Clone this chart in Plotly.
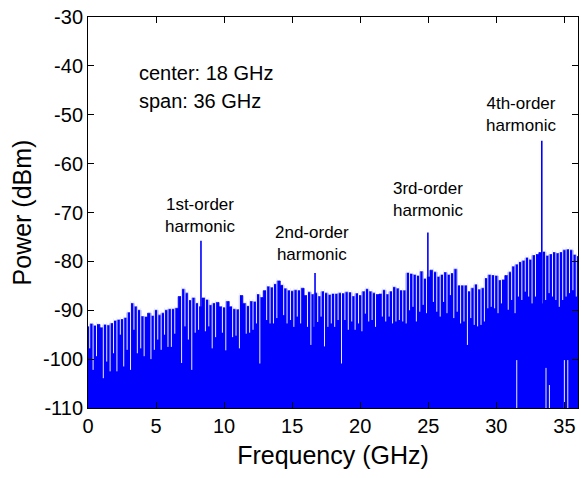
import numpy as np
import plotly.graph_objects as go

# ---------------- data ----------------
freq_step_ghz = 0.25  # spacing of the envelope readings (0 .. 36 GHz)

env_power = [
    -93.4, -92.8, -93.2, -92.9, -93.6, -93.0, -93.1, -92.7, -92.2, -92.0, -91.9, -91.6, -90.5,
    -88.6, -89.3, -90.0, -91.3, -91.4, -90.6, -91.2, -90.0, -91.0, -90.6, -90.0, -89.8,
    -89.8, -89.6, -87.2, -85.7, -86.5, -88.0, -87.5, -88.6, -89.3, -87.5, -87.9, -89.0,
    -88.6, -88.4, -89.3, -89.5, -88.2, -89.3, -89.8, -89.9, -87.0, -88.6, -89.2, -88.2,
    -88.3, -86.8, -87.4, -86.0, -85.2, -85.4, -84.7, -84.0, -84.9, -85.6, -86.0, -86.1,
    -85.9, -86.0, -85.5, -87.0, -86.3, -86.8, -86.5, -87.2, -86.2, -86.5, -86.9, -86.7,
    -86.7, -86.5, -86.6, -86.3, -86.4, -87.2, -86.6, -87.0, -86.2, -85.7, -86.2, -86.5,
    -86.8, -86.7, -85.9, -86.8, -86.2, -85.3, -85.6, -86.0, -86.0, -82.4, -82.6, -82.8,
    -83.0, -82.1, -83.6, -83.2, -81.8, -82.2, -83.2, -82.8, -82.3, -82.8, -82.5, -81.6,
    -85.0, -85.0, -85.0, -86.2, -85.5, -84.8, -85.8, -85.5, -83.5, -82.8, -82.9, -83.0,
    -83.9, -83.8, -82.9, -82.2, -81.1, -80.7, -80.2, -79.9, -79.3, -79.7, -78.8, -78.6,
    -78.2, -78.1, -78.9, -78.6, -78.2, -78.4, -78.2, -77.7, -77.6, -77.7, -78.7, -79.0,
]

# depth of the narrow notch between neighbouring envelope readings (None = no notch)
dip_power = [
    -97.8, -102.2, -99.4, None, -103.9, -100.5, -102.5, -98.8, -102.5, -95.0, -101.5, -98.1,
    -102.2, -94.0, -98.8, -97.8, -99.4, None, -100.0, -98.1, -96.0, -98.1, -95.0, -97.5,
    -97.5, -94.8, None, -100.8, -93.3, -96.0, -102.2, -94.6, -94.0, None, -94.3, -93.3,
    -97.8, -95.5, None, -94.6, -98.2, None, -95.5, -95.2, -97.8, None, -94.8, -94.6,
    -94.0, -92.7, -100.9, None, -92.0, -92.7, -92.7, -91.6, None, -91.0, -92.7, -92.0,
    -93.4, -91.3, -92.7, None, -93.4, -97.1, -93.4, -92.4, -91.3, -97.4, -93.4, -92.7,
    -93.4, -92.0, -100.9, -92.0, -94.0, -92.3, -94.0, -92.7, -94.3, -90.7, -92.3, -92.0,
    -93.4, None, -91.3, -92.3, -91.3, -92.7, -92.3, -92.0, -92.3, -92.7, -90.0, -89.3,
    -92.3, -90.3, -88.9, -90.6, None, -88.3, -90.3, -91.3, -88.3, -90.6, -86.9, -91.6,
    -90.3, -92.7, -92.3, -97.1, -91.6, -93.0, -93.3, -93.0, -92.3, -89.6, -89.3, -89.6,
    -90.6, -88.6, None, -89.9, -87.9, -90.6, -87.2, -87.9, -86.2, -87.2, -88.6, -87.2,
    None, -88.6, -87.9, -86.5, -87.2, -87.9, -89.3, -87.9, -87.2, -86.5, -85.9, -87.2,
]

harm_freq = [8.30, 16.68, 24.97, 33.34]
harm_power = [-75.8, -82.4, -74.1, -55.3]
harm_labels = ["1st-order<br>harmonic", "2nd-order<br>harmonic",
               "3rd-order<br>harmonic", "4th-order<br>harmonic"]
harm_label_pos = [(8.23, -70.7), (16.46, -76.4), (24.98, -67.4), (31.8, -50.0)]

floor_gap_freq = [31.5, 33.65, 33.9, 35.0, 35.25]
floor_gap_top = [-100.2, -101.8, -105.3, -100.2, -100.2]

info_lines = ["center: 18 GHz", "span: 36 GHz"]
info_pos = [(3.6, -41.5), (3.6, -47.2)]

x_ticks = [0, 5, 10, 15, 20, 25, 30, 35]
y_ticks = [-110, -100, -90, -80, -70, -60, -50, -40, -30]
x_range = [0, 36]
y_range = [-110, -30]

# ---------------- figure ----------------
BLUE = "rgb(0,0,255)"
FONT = "Arial, 'Liberation Sans', sans-serif"

env_freq = np.arange(len(env_power)) * freq_step_ghz

fig = go.Figure()
# baseline for the fill
fig.add_trace(go.Scatter(x=[env_freq[0], env_freq[-1]], y=[y_range[0], y_range[0]],
                         mode="lines", line=dict(width=0, color=BLUE),
                         showlegend=False, hoverinfo="skip"))
# filled spectrum envelope
fig.add_trace(go.Scatter(x=env_freq, y=env_power, mode="lines", line_shape="hvh",
                         line=dict(color=BLUE, width=0.8), fill="tonexty",
                         fillcolor=BLUE, showlegend=False))

# notches (white) between readings
dx, dy = [], []
for i, d in enumerate(dip_power):
    if d is None:
        continue
    f = env_freq[i] + freq_step_ghz / 2
    top = max(env_power[i], env_power[i + 1]) + 0.5
    dx += [f, f, None]
    dy += [d, top, None]
fig.add_trace(go.Scatter(x=dx, y=dy, mode="lines",
                         line=dict(color="rgb(235,238,255)", width=1),
                         showlegend=False, hoverinfo="skip"))

# gaps at the bottom of the trace
gx, gy = [], []
for f, t in zip(floor_gap_freq, floor_gap_top):
    gx += [f, f, None]
    gy += [y_range[0], t, None]
fig.add_trace(go.Scatter(x=gx, y=gy, mode="lines",
                         line=dict(color="rgb(235,238,255)", width=1),
                         showlegend=False, hoverinfo="skip"))

# harmonic peaks
hx, hy = [], []
for f, p in zip(harm_freq, harm_power):
    hx += [f, f, None]
    hy += [y_range[0], p, None]
fig.add_trace(go.Scatter(x=hx, y=hy, mode="lines", line=dict(color=BLUE, width=1.6),
                         showlegend=False))

annotations = []
for (x, y), t in zip(harm_label_pos, harm_labels):
    annotations.append(dict(x=x, y=y, xref="x", yref="y", text=t, showarrow=False,
                            font=dict(family=FONT, size=17, color="black"),
                            xanchor="center", yanchor="middle", align="center"))
for (x, y), t in zip(info_pos, info_lines):
    annotations.append(dict(x=x, y=y, xref="x", yref="y", text=t, showarrow=False,
                            font=dict(family=FONT, size=20, color="black"),
                            xanchor="left", yanchor="middle", align="left"))

axis_common = dict(showline=True, linecolor="black", linewidth=1, mirror="ticks",
                   ticks="inside", ticklen=6, tickcolor="black", showgrid=False,
                   zeroline=False, tickfont=dict(family=FONT, size=20, color="black"))

fig.update_layout(
    width=581, height=478,
    margin=dict(l=88, r=3, t=17, b=70),
    paper_bgcolor="white", plot_bgcolor="white",
    xaxis=dict(range=x_range, tickvals=x_ticks, ticktext=[str(v) for v in x_ticks],
               title=dict(text="Frequency (GHz)", font=dict(family=FONT, size=25, color="black"),
                          standoff=10),
               **axis_common),
    yaxis=dict(range=y_range, tickvals=y_ticks, ticktext=[str(v) for v in y_ticks],
               title=dict(text="Power (dBm)", font=dict(family=FONT, size=25, color="black"),
                          standoff=4),
               **axis_common),
    annotations=annotations,
    showlegend=False,
)

fig.write_html("out.html")
